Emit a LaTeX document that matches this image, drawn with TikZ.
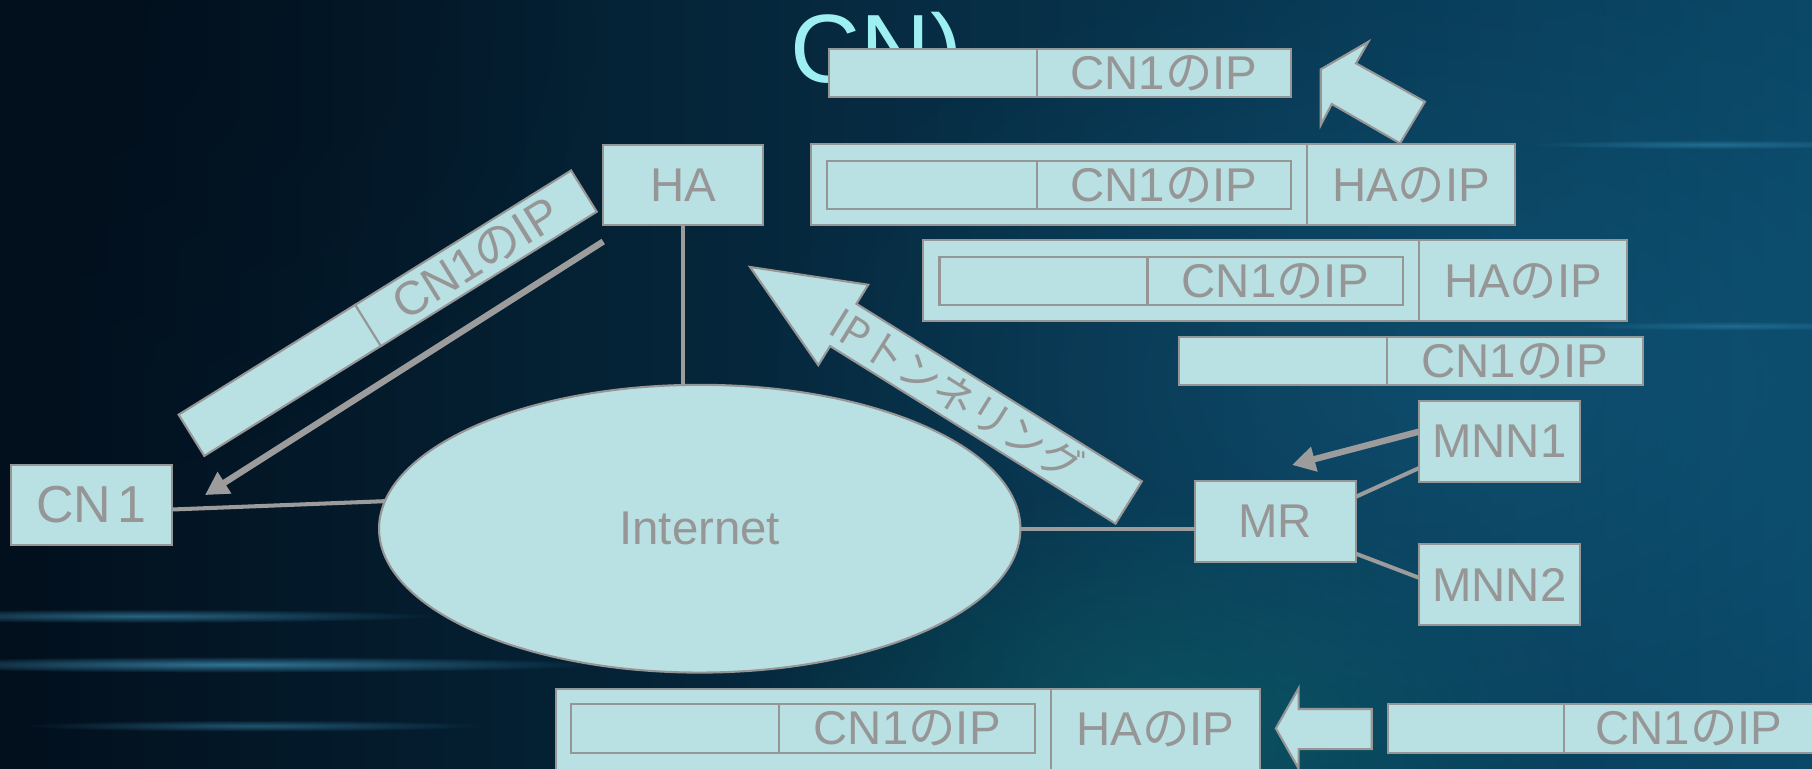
\documentclass[tikz,border=0pt]{standalone}
\usepackage{fontspec}
\setmainfont{Liberation Sans}
\newfontfamily\jpfont{Noto Sans CJK JP}
\usetikzlibrary{arrows.meta,shapes.geometric,fadings}
\definecolor{boxfill}{HTML}{B9E0E3}
\definecolor{edgegray}{HTML}{969696}
\definecolor{txtgray}{HTML}{969696}
\definecolor{linegray}{HTML}{9C9C9C}
\definecolor{titlecyan}{HTML}{9DEFF2}
\definecolor{bgA}{HTML}{020F1C}
\definecolor{bgB}{HTML}{053352}
\definecolor{bgC}{HTML}{0A4868}
\definecolor{tealglow}{HTML}{0E6B70}
\definecolor{blueglow}{HTML}{1A6A90}
\definecolor{streak}{HTML}{4FB4E0}
\tikzfading[name=glow, inner color=transparent!0, outer color=transparent!100]
\newcommand{\jpno}{{\jpfont の}}
\begin{document}
\begin{tikzpicture}[x=1pt,y=-1pt,
  pbox/.style={draw=edgegray, line width=1.8pt, fill=boxfill, inner sep=0pt, outer sep=0pt, text=txtgray, font=\fontsize{41}{48}\selectfont},
  conn/.style={draw=linegray, line width=3.5pt},
  arr/.style={draw=linegray, line width=5.5pt, -{Triangle[length=20pt,width=21pt]}},
  barrow/.style={draw=edgegray, line width=1.8pt, fill=boxfill, line join=miter},
]
\useasboundingbox (0,0) rectangle (1568,665);
\clip (0,0) rectangle (1568,665);
% background
\shade[left color=bgA, middle color=bgB, right color=bgC] (0,0) rectangle (1568,665);
\fill[blueglow, opacity=0.35, path fading=glow] (1250,330) ellipse [x radius=600pt, y radius=380pt];
\fill[tealglow, opacity=0.55, path fading=glow] (1000,640) ellipse [x radius=380pt, y radius=220pt];
\fill[bgA, opacity=0.8, path fading=glow] (0,0) ellipse [x radius=520pt, y radius=420pt];
\fill[streak, opacity=0.5, path fading=glow] (120,533) ellipse [x radius=260pt, y radius=6pt];
\fill[streak, opacity=0.6, path fading=glow] (200,575) ellipse [x radius=320pt, y radius=7pt];
\fill[streak, opacity=0.4, path fading=glow] (220,628) ellipse [x radius=200pt, y radius=5pt];
\fill[streak, opacity=0.35, path fading=glow] (1480,125) ellipse [x radius=160pt, y radius=4pt];
\fill[streak, opacity=0.3, path fading=glow] (1500,282) ellipse [x radius=140pt, y radius=4pt];
% title fragment (lower part hidden behind the first packet)
\begin{scope}
\clip (600,0) rectangle (900,84);
\node[anchor=base west, inner sep=0pt, text=titlecyan, font=\fontsize{84}{84}\selectfont] (title) at (684,71) {CN)};
\end{scope}
% network
\node[pbox, ellipse, minimum width=555pt, minimum height=249pt] (inet) at (605.5,457.5) {Internet};
\node[pbox, anchor=north west, minimum width=138pt, minimum height=69pt] (HA) at (522,125.5) {HA};
\node[pbox, anchor=north west, minimum width=139pt, minimum height=69pt, font=\fontsize{45}{48}\selectfont] (CN1) at (9.5,402.4) {CN\kern5pt1};
\node[pbox, anchor=north west, minimum width=139pt, minimum height=70pt] (MR) at (1034,416) {MR};
\node[pbox, anchor=north west, minimum width=139pt, minimum height=70pt] (MNN1) at (1228,347) {MNN1};
\node[pbox, anchor=north west, minimum width=139pt, minimum height=70pt] (MNN2) at (1228,471) {MNN2};
\draw[conn] (HA.south) -- (HA.south |- inet.north);
\draw[conn] ([yshift=-4pt]CN1.east) -- (inet.175);
\draw[conn] (inet.east) -- (inet.east -| MR.west);
\draw[conn] ([yshift=-14pt]MR.north east) -- ([yshift=12pt]MNN1.south west);
\draw[conn] ([yshift=7pt]MR.south east) -- ([yshift=6pt]MNN2.west);
\coordinate (cnTip) at (177.4,428.4);
\coordinate (mrTip) at (1118,402.4);
\draw[arr] ([yshift=-14.5pt]HA.south west) -- (cnTip);
\draw[arr] ([yshift=8.5pt]MNN1.west) -- (mrTip);
% rotated packet
\node[pbox, rotate=31.9, minimum width=180pt, minimum height=42pt] (rpa) at (242.1,329.1) {};
\node[pbox, rotate=31.9, minimum width=220pt, minimum height=42pt] (rpb) at (411.9,223.5) {CN1\jpno IP};
% tunnelling arrow
\draw[barrow] (649,231) -- (751.3,246.4) -- (741.1,262.9) -- (988.1,416.5) -- (965.3,453.1) -- (718.3,299.5) -- (708.1,316) -- cycle;
\node[rotate=-31.9, inner sep=0pt, text=txtgray, font=\jpfont\fontsize{36}{36}\selectfont] (tun) at (828,342) {IPトンネリング};
% packets
\node[pbox, anchor=north west, minimum width=180pt, minimum height=42pt] (p1a) at (717,42) {};
\node[pbox, anchor=north west, minimum width=220pt, minimum height=42pt] (p1b) at (897,42) {CN1\jpno IP};
\draw[barrow] (1142.9,60) -- (1184.1,36.1) -- (1173.4,54.8) -- (1233.1,88) -- (1211.5,124) -- (1152.4,90) -- (1142.9,108.2) -- cycle;
\node[pbox, anchor=north west, minimum width=429pt, minimum height=70pt] (p2o) at (702,125) {};
\node[pbox, anchor=north west, minimum width=180pt, minimum height=70pt] (p2h) at (1131,125) {HA\jpno IP};
\node[pbox, anchor=north west, minimum width=181pt, minimum height=42pt] (p2a) at (716,139) {};
\node[pbox, anchor=north west, minimum width=220pt, minimum height=42pt] (p2b) at (897,139) {CN1\jpno IP};
\node[pbox, anchor=north west, minimum width=429pt, minimum height=70pt] (p3o) at (799,208) {};
\node[pbox, anchor=north west, minimum width=180pt, minimum height=70pt] (p3h) at (1228,208) {HA\jpno IP};
\node[pbox, anchor=north west, minimum width=180pt, minimum height=42pt] (p3a) at (813,222) {};
\node[pbox, anchor=north west, minimum width=221pt, minimum height=42pt] (p3b) at (993,222) {CN1\jpno IP};
\node[pbox, anchor=north west, minimum width=180pt, minimum height=41pt] (p4a) at (1020,292) {};
\node[pbox, anchor=north west, minimum width=222pt, minimum height=41pt] (p4b) at (1200,292) {CN1\jpno IP};
\node[pbox, anchor=north west, minimum width=428.5pt, minimum height=70pt] (p5o) at (481,596) {};
\node[pbox, anchor=north west, minimum width=180.5pt, minimum height=70pt] (p5h) at (909.5,596) {HA\jpno IP};
\node[pbox, anchor=north west, minimum width=180pt, minimum height=42pt] (p5a) at (494,609.5) {};
\node[pbox, anchor=north west, minimum width=222pt, minimum height=42pt] (p5b) at (674,609.5) {CN1\jpno IP};
\draw[barrow] (1104,630.3) -- (1123.7,595.6) -- (1123.7,613.5) -- (1187,613.5) -- (1187,648.2) -- (1123.7,648.2) -- (1123.7,665) -- cycle;
\node[pbox, anchor=north west, minimum width=152pt, minimum height=42pt] (p6a) at (1201,609.5) {};
\node[pbox, anchor=north west, minimum width=217pt, minimum height=42pt] (p6b) at (1353,609.5) {CN1\jpno IP};
\end{tikzpicture}
\end{document}
